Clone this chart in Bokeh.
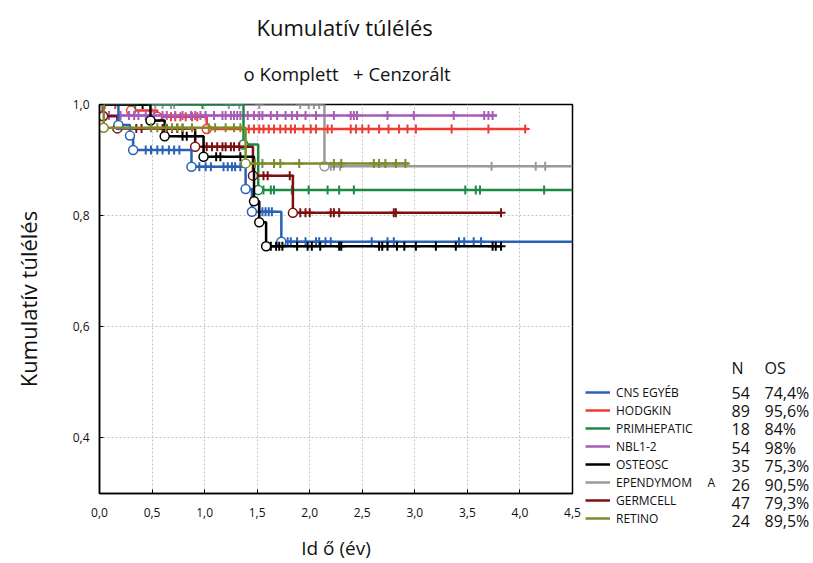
import numpy as np
from bokeh.plotting import figure
from bokeh.layouts import row
from bokeh.models import Range1d, FixedTicker, Label, Legend, LegendItem, Title
from bokeh.embed import file_html
from bokeh.resources import INLINE

FONT = "Open Sans"
TXT = "#111111"

# ---------------- data ----------------
x_ticks = [0.0, 0.5, 1.0, 1.5, 2.0, 2.5, 3.0, 3.5, 4.0, 4.5]
x_tick_labels = ["0,0", "0,5", "1,0", "1,5", "2,0", "2,5", "3,0", "3,5", "4,0", "4,5"]
y_ticks = [0.4, 0.6, 0.8, 1.0]
y_tick_labels = ["0,4", "0,6", "0,8", "1,0"]

names = ["CNS EGYÉB", "HODGKIN", "PRIMHEPATIC", "NBL1-2", "OSTEOSC",
         "EPENDYMOM\u00a0\u00a0\u00a0\u00a0\u00a0A", "GERMCELL", "RETINO"]
n_patients = [54, 89, 18, 54, 35, 26, 47, 24]
os_text = ["74,4%", "95,6%", "84%", "98%", "75,3%", "90,5%", "79,3%", "89,5%"]
colors = ["#2961b5", "#f03a32", "#1b8a45", "#a85cb8", "#000000", "#9a9a9a", "#7d0f0f", "#7f8a2b"]

# CNS EGYÉB
cns_time = [0.0, 0.18, 0.29, 0.32, 0.875, 1.39, 1.45, 1.73]
cns_surv = [1.0, 0.963, 0.944, 0.918, 0.888, 0.848, 0.807, 0.753]
cns_cens = [0.44, 0.49, 0.55, 0.60, 0.66, 0.71, 0.76, 0.95, 1.01, 1.06, 1.18, 1.22, 1.26,
            1.29, 1.34, 1.55, 1.58, 1.61, 1.64, 1.79, 1.82, 1.88, 1.96, 2.06, 2.09, 2.15,
            2.20, 2.59, 2.74, 2.80, 3.42, 3.47, 3.56, 3.63]
cns_end = 4.5

# HODGKIN
hod_time = [0.0, 0.30, 0.55, 1.02]
hod_surv = [1.0, 0.989, 0.978, 0.956]
hod_cens = [0.05, 0.15, 0.68, 0.72, 0.77, 0.82, 0.88, 0.93, 1.42, 1.47, 1.52, 1.56, 1.61,
            1.66, 1.72, 1.77, 1.82, 1.86, 1.94, 2.01, 2.06, 2.17, 2.21, 2.39, 2.44, 2.50,
            2.56, 2.66, 2.75, 2.85, 2.93, 3.01, 3.35, 3.70, 4.05]
hod_end = 4.07

# PRIMHEPATIC
hep_time = [0.0, 1.37, 1.51]
hep_surv = [1.0, 0.928, 0.846]
hep_cens = [0.34, 0.98, 1.56, 1.63, 1.66, 1.83, 1.99, 2.17, 2.28, 2.42, 3.48, 3.58, 3.62, 4.23]
hep_end = 4.5

# NBL1-2
nbl_time = [0.0, 0.03]
nbl_surv = [1.0, 0.98]
nbl_cens = [0.09, 0.20, 0.28, 0.33, 0.37, 0.44, 0.52, 0.60, 0.64, 0.72, 0.79, 0.87, 0.91,
            0.96, 1.01, 1.09, 1.17, 1.20, 1.25, 1.28, 1.31, 1.34, 1.41, 1.47, 1.52, 1.55,
            1.63, 1.69, 1.77, 1.83, 1.88, 1.96, 2.06, 2.23, 2.39, 2.42, 2.45, 2.74, 2.99,
            3.37, 3.66, 3.70, 3.74]
nbl_end = 3.78

# OSTEOSC
ost_time = [0.0, 0.485, 0.62, 0.99, 1.47, 1.52, 1.585]
ost_surv = [1.0, 0.971, 0.943, 0.906, 0.826, 0.788, 0.745]
ost_cens = [0.41, 0.79, 0.83, 0.91, 1.11, 1.15, 1.34, 1.63, 1.68, 1.71, 1.74, 1.88, 1.98,
            2.02, 2.10, 2.28, 2.30, 2.66, 2.69, 2.74, 2.83, 2.90, 3.01, 3.20, 3.39, 3.74,
            3.77, 3.82]
ost_end = 3.83

# EPENDYMOMA
epe_time = [0.0, 2.14]
epe_surv = [1.0, 0.889]
epe_cens = [0.53, 0.60, 0.68, 0.71, 1.23, 1.33, 1.52, 1.91, 1.99, 2.04, 2.09, 2.20, 2.23,
            2.29, 3.73, 4.15, 4.24]
epe_end = 4.5

# GERMCELL
grm_time = [0.0, 0.035, 0.17, 0.91, 1.46, 1.84]
grm_surv = [1.0, 0.979, 0.957, 0.924, 0.872, 0.805]
grm_cens = [0.35, 0.40, 0.60, 0.64, 0.69, 0.74, 0.79, 1.02, 1.07, 1.12, 1.17, 1.20, 1.25,
            1.28, 1.33, 1.56, 1.60, 1.81, 1.91, 1.96, 2.00, 2.20, 2.23, 2.28, 2.80, 2.82, 3.82]
grm_end = 3.83

# RETINO
ret_time = [0.0, 0.04, 1.39]
ret_surv = [1.0, 0.958, 0.894]
ret_cens = [0.49, 0.55, 0.63, 0.69, 0.74, 0.79, 0.88, 1.04, 1.10, 1.20, 1.28, 1.34, 1.48,
            1.55, 1.66, 1.72, 1.90, 2.23, 2.30, 2.61, 2.66, 2.72, 2.82, 2.91]
ret_end = 2.94

series = [
    (cns_time, cns_surv, cns_cens, cns_end),
    (hod_time, hod_surv, hod_cens, hod_end),
    (hep_time, hep_surv, hep_cens, hep_end),
    (nbl_time, nbl_surv, nbl_cens, nbl_end),
    (ost_time, ost_surv, ost_cens, ost_end),
    (epe_time, epe_surv, epe_cens, epe_end),
    (grm_time, grm_surv, grm_cens, grm_end),
    (ret_time, ret_surv, ret_cens, ret_end),
]
draw_order = [5, 1, 3, 2, 6, 0, 4, 7]

# ---------------- main figure ----------------
p = figure(width=582, height=563, output_backend="svg", toolbar_location=None,
           x_range=Range1d(0, 4.5), y_range=Range1d(0.3, 1.0),
           min_border_left=99, min_border_right=10, min_border_top=104, min_border_bottom=68)
p.outline_line_color = "black"
p.outline_line_width = 1.5

p.xaxis.ticker = FixedTicker(ticks=x_ticks)
p.xaxis.major_label_overrides = dict(zip(x_ticks, x_tick_labels))
p.yaxis.ticker = FixedTicker(ticks=y_ticks)
p.yaxis.major_label_overrides = dict(zip(y_ticks, y_tick_labels))
for ax in (p.xaxis, p.yaxis):
    ax.major_tick_in = 4
    ax.major_tick_out = 0
    ax.minor_tick_line_color = None
    ax.axis_line_color = "black"
    ax.axis_line_width = 1.5
    ax.major_label_text_font = FONT
    ax.major_label_text_font_size = "12px"
    ax.major_label_text_color = TXT
    ax.axis_label_text_font = FONT
    ax.axis_label_text_font_style = "normal"
    ax.axis_label_text_color = TXT
p.xaxis.axis_label = "Id ő (év)"
p.xaxis.axis_label_text_font_size = "19px"
p.xaxis.major_label_standoff = 14
p.xaxis.axis_label_standoff = 15
p.yaxis.axis_label = "Kumulatív túlélés"
p.yaxis.axis_label_text_font_size = "22px"
p.yaxis.major_label_standoff = 10
p.yaxis.axis_label_standoff = 27

for g in (p.xgrid, p.ygrid):
    g.grid_line_color = "#c4c4c4"
    g.grid_line_dash = "2 2"
    g.grid_line_width = 1

for i in draw_order:
    t, s, c, end = series[i]
    col = colors[i]
    xs = list(t) + [end]
    ys = list(s) + [s[-1]]
    p.step(xs, ys, mode="after", line_color=col, line_width=2.5)
    idx = np.searchsorted(np.array(t), np.array(c), side="right") - 1
    cy = [s[k] for k in idx]
    p.scatter(c, cy, marker="cross", size=9, line_color=col, line_width=2)
    p.scatter(t[1:], s[1:], marker="circle", size=9, fill_color="white",
              line_color=col, line_width=1.5)

# titles (first added sits closest to the frame)
p.add_layout(Title(text="o Komplett\u00a0\u00a0\u00a0+ Cenzorált", align="left", offset=144,
                   vertical_align="middle",
                   text_font=FONT, text_font_size="18.5px", text_font_style="normal",
                   text_color=TXT, standoff=35), "above")
p.add_layout(Title(text="Kumulatív túlélés", align="left", offset=157,
                   vertical_align="middle",
                   text_font=FONT, text_font_size="22px", text_font_style="normal",
                   text_color=TXT, standoff=0), "above")

# ---------------- legend panel ----------------
LW = 231
p2 = figure(width=LW, height=563, output_backend="svg", toolbar_location=None,
            x_range=Range1d(0, LW), y_range=Range1d(0, 563),
            x_axis_type=None, y_axis_type=None,
            min_border_left=0, min_border_right=0, min_border_top=0, min_border_bottom=0)
p2.outline_line_color = None
p2.grid.visible = False
for fig in (p, p2):
    try:
        fig.frame_align = False
    except Exception:
        pass

items = []
for i, name in enumerate(names):
    r = p2.line(x=[np.nan], y=[np.nan], line_color=colors[i], line_width=2.5)
    items.append(LegendItem(label=name, renderers=[r]))
legend = Legend(items=items, location=(3, 36), glyph_width=25, glyph_height=18, label_height=18,
                spacing=0, padding=0, margin=0, label_standoff=6,
                label_text_font=FONT, label_text_font_size="12px", label_text_color=TXT,
                border_line_alpha=0, background_fill_alpha=0)
p2.add_layout(legend, "center")

hdr_y = 196
row0_y = 171
row_step = 18.4
col_n = 149
col_os = 182
for xx, txt in ((col_n, "N"), (col_os, "OS")):
    p2.add_layout(Label(x=xx, y=hdr_y, x_units="screen", y_units="screen", text=txt,
                        text_align="left", text_baseline="middle", text_font=FONT,
                        text_font_size="16px", text_color=TXT))
for i in range(len(names)):
    yy = row0_y - row_step * i
    p2.add_layout(Label(x=col_n, y=yy, x_units="screen", y_units="screen", text=str(n_patients[i]),
                        text_align="left", text_baseline="middle", text_font=FONT,
                        text_font_size="16px", text_color=TXT))
    p2.add_layout(Label(x=col_os, y=yy, x_units="screen", y_units="screen", text=os_text[i],
                        text_align="left", text_baseline="middle", text_font=FONT,
                        text_font_size="16px", text_color=TXT))

layout = row(p, p2, spacing=0)
open("out.html", "w").write(file_html(layout, INLINE))
